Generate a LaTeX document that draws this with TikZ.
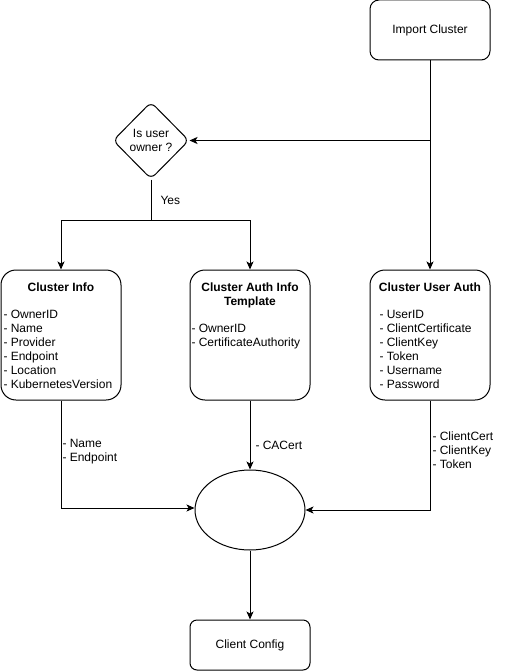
\documentclass[tikz,border=0pt]{standalone}
\usepackage{fontspec}
\setmainfont{Liberation Sans}
\usetikzlibrary{shapes.geometric,arrows.meta}
\begin{document}
\begin{tikzpicture}[x=1pt,y=-1pt, line width=1pt, font=\fontsize{12}{14}\selectfont,
  box/.style={draw, rounded corners=15pt, inner sep=0, minimum width=120pt},
  arr/.style={-{Stealth[length=8pt,width=7pt,inset=2pt]}},
  lst/.style={inner sep=0, align=left, anchor=north west},
  ttl/.style={inner sep=0, align=center, font=\fontsize{12}{14}\selectfont\bfseries},
]
\useasboundingbox (0,0) rectangle (511,671);
% boxes
\node[box, minimum height=60pt, rounded corners=9pt] (imp) at (430,30) {Import Cluster};
\node[draw, diamond, rounded corners=6pt, minimum width=76pt, minimum height=77pt, inner sep=0, align=center] (dia) at (151,140.5) {Is user\\owner ?};
\node[box, minimum height=130pt] (ci) at (61,335) {};
\node[box, minimum height=130pt] (cait) at (250,335) {};
\node[box, minimum height=130pt] (cua) at (430,335) {};
\node[draw, ellipse, minimum width=110pt, minimum height=80pt, inner sep=0] (ell) at (250,510) {};
\node[box, minimum height=50pt, rounded corners=7pt] (cc) at (250,645) {Client Config};
% box texts
\node[ttl, anchor=base] (citl) at (61,291) {Cluster Info};
\node[lst] (cilst) at (3,309.3) {- OwnerID\\- Name\\- Provider\\- Endpoint\\- Location\\- KubernetesVersion};
\node[ttl, anchor=north] (caittl) at (250,282.3) {Cluster Auth Info\\Template};
\node[lst] (caitlst) at (191,323.3) {- OwnerID\\- CertificateAuthority};
\node[ttl, anchor=base] (cuatl) at (430,291) {Cluster User Auth};
\node[lst] (cualst) at (379,309.3) {- UserID\\- ClientCertificate\\- ClientKey\\- Token\\- Username\\- Password};
% connectors
\coordinate (split) at (151,220);
\draw[arr] (imp.south) -- (cua.north);
\draw[arr] (imp.south |- dia.east) -- (dia.east);
\draw (dia.south) -- (split);
\draw[arr] (split) -| (ci.north);
\draw[arr] (split) -| (cait.north);
\draw[arr] (ci.south) |- ([yshift=2pt]ell.west);
\draw[arr] (cait.south) -- (ell.north);
\draw[arr] (cua.south) |- (ell.east);
\draw[arr] (ell.south) -- (cc.north);
% labels
\node[inner sep=0, anchor=base west] (yes) at (160,204) {Yes};
\node[lst] (l1) at (62,438.3) {- Name\\- Endpoint};
\node[lst] (l2) at (255,440.3) {- CACert};
\node[lst] (l3) at (432,431.3) {- ClientCert\\- ClientKey\\- Token};
\end{tikzpicture}
\end{document}
